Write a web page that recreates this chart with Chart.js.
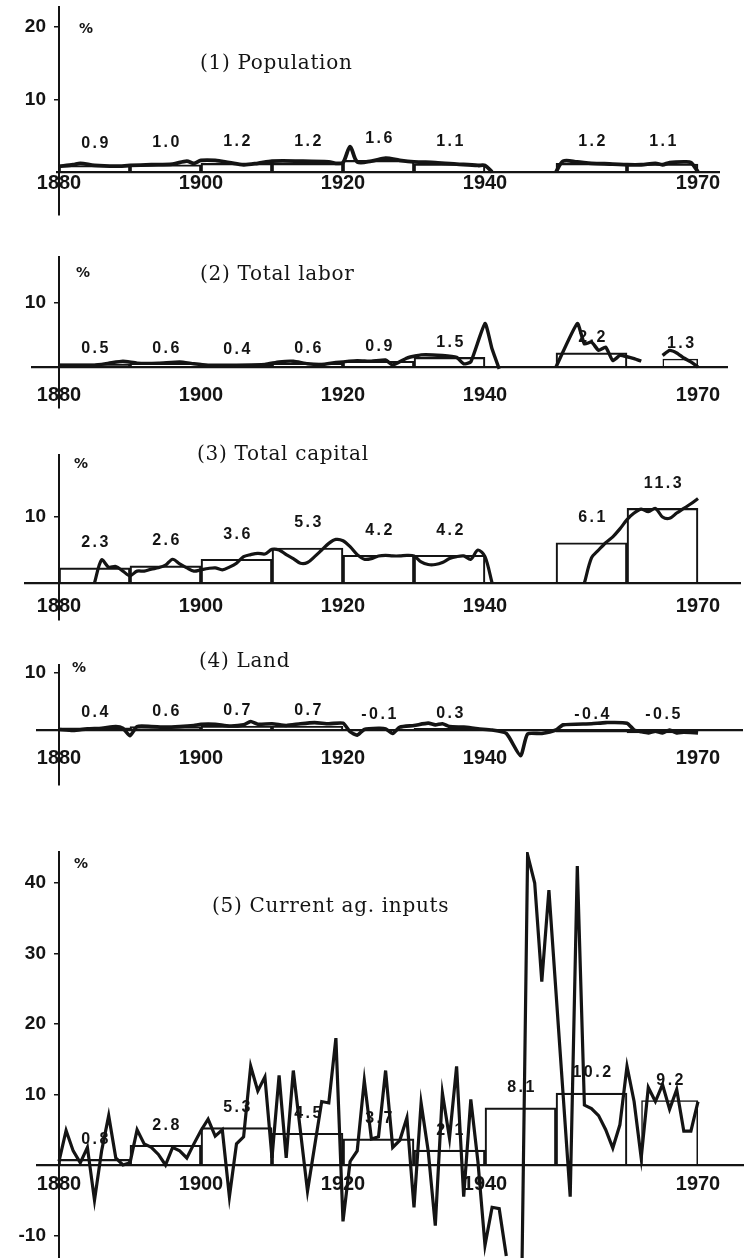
<!DOCTYPE html>
<html>
<head>
<meta charset="utf-8">
<script src="https://cdn.jsdelivr.net/npm/chart.js@4/dist/chart.umd.min.js"></script>
<style>
  body { margin: 0; background: #fff; }
  #wrap { position: relative; width: 745px; height: 1258px; overflow: hidden; background: #fff; }
  canvas { position: absolute; left: 0; top: -40px; }
  .ttl { position: absolute; font-family: 'DejaVu Serif', serif; font-size: 20px; letter-spacing: 0.7px; color: #141414; white-space: nowrap; line-height: 1; }
  .pct { position: absolute; font-family: 'DejaVu Sans', sans-serif; font-weight: bold; font-size: 14px; color: #141414; line-height: 1; }
</style>
</head>
<body>
<div id="wrap">
  <canvas id="c1" width="745" height="1338"></canvas>
  <canvas id="c2" width="745" height="1338"></canvas>
  <canvas id="c3" width="745" height="1338"></canvas>
  <canvas id="c4" width="745" height="1338"></canvas>
  <canvas id="c5" width="745" height="1338"></canvas>

  <div class="ttl" style="left:200px;top:52px">(1) Population</div>
  <div class="ttl" style="left:200px;top:263px">(2) Total labor</div>
  <div class="ttl" style="left:197px;top:443px">(3) Total capital</div>
  <div class="ttl" style="left:199px;top:650px">(4) Land</div>
  <div class="ttl" style="left:212px;top:895px">(5) Current ag. inputs</div>

  <div class="pct" style="left:79px;top:21px">%</div>
  <div class="pct" style="left:76px;top:265px">%</div>
  <div class="pct" style="left:74px;top:456px">%</div>
  <div class="pct" style="left:72px;top:660px">%</div>
  <div class="pct" style="left:74px;top:856px">%</div>
</div>

<script>
// Años marcados en el eje x
const yearTicks = [1880, 1900, 1920, 1940, 1970];

// (1) Población: medias por periodo y tasa anual (%)
const popBarStart = [1880, 1890, 1900, 1910, 1920, 1930, 1950, 1960];
const popBarEnd   = [1890, 1900, 1910, 1920, 1930, 1940, 1960, 1970];
const popBarValue = [0.9, 1.0, 1.2, 1.2, 1.6, 1.1, 1.2, 1.1];
const popYears = [1880, 1882, 1883, 1885, 1888, 1890, 1893, 1896, 1898, 1899, 1900, 1902, 1904, 1906, 1908, 1910, 1914, 1918, 1919, 1920, 1921, 1922, 1924, 1926, 1928, 1930, 1933, 1936, 1939, 1940, 1941, 1945, 1950, 1951, 1953, 1955, 1958, 1960, 1962, 1964, 1965, 1966, 1968, 1969, 1970];
const popRates = [0.8, 1.0, 1.2, 0.9, 0.8, 0.9, 1.0, 1.1, 1.5, 1.2, 1.6, 1.6, 1.3, 1.0, 1.2, 1.5, 1.5, 1.4, 1.2, 1.3, 3.5, 1.4, 1.5, 1.9, 1.6, 1.4, 1.3, 1.1, 0.9, 0.9, 0, null, 0, 1.5, 1.4, 1.2, 1.1, 1.0, 1.0, 1.2, 1.0, 1.3, 1.4, 1.3, 0];

// (2) Trabajo total
const labBarStart = [1880, 1890, 1900, 1910, 1920, 1930, 1950, 1965];
const labBarEnd   = [1890, 1900, 1910, 1920, 1930, 1940, 1960, 1970];
const labBarValue = [0.5, 0.6, 0.4, 0.6, 0.9, 1.5, 2.2, 1.3];
const labYears = [1880, 1885, 1887, 1889, 1891, 1894, 1897, 1899, 1901, 1905, 1909, 1911, 1913, 1915, 1917, 1919, 1922, 1924, 1926, 1927, 1929, 1931, 1934, 1936, 1937, 1938, 1940, 1941, 1942, 1946, 1950, 1953, 1954, 1955, 1956, 1957, 1958, 1959, 1960, 1961, 1962, 1963, 1965, 1966, 1967, 1968, 1969, 1970];
const labRates = [0.3, 0.3, 0.6, 0.9, 0.6, 0.6, 0.8, 0.5, 0.3, 0.3, 0.4, 0.8, 0.9, 0.5, 0.4, 0.7, 1.0, 0.9, 1.1, 0.3, 1.4, 1.9, 1.8, 1.5, 0.5, 0.8, 6.8, 2.8, -0.3, null, 0, 6.8, 3.6, 3.9, 2.6, 3.1, 1.0, 1.8, 1.6, 1.3, 0.9, null, 1.8, 2.6, 2.2, 1.4, 0.8, 0];

// (3) Capital total
const capBarStart = [1880, 1890, 1900, 1910, 1920, 1930, 1950, 1960];
const capBarEnd   = [1890, 1900, 1910, 1920, 1930, 1940, 1960, 1970];
const capBarValue = [2.3, 2.6, 3.6, 5.3, 4.2, 4.2, 6.1, 11.3];
const capYears = [1885, 1886, 1887, 1888, 1889, 1890, 1891, 1892, 1893, 1894, 1895, 1896, 1897, 1898, 1899, 1900, 1901, 1902, 1903, 1904, 1905, 1906, 1907, 1908, 1909, 1910, 1911, 1912, 1913, 1914, 1915, 1916, 1917, 1918, 1919, 1920, 1921, 1922, 1923, 1924, 1925, 1926, 1927, 1928, 1929, 1930, 1931, 1932, 1933, 1934, 1935, 1936, 1937, 1938, 1939, 1940, 1941, 1948, 1954, 1955, 1956, 1957, 1958, 1959, 1960, 1961, 1962, 1963, 1964, 1965, 1966, 1967, 1968, 1969, 1970];
const capRates = [0, 3.5, 2.4, 2.5, 1.8, 1.1, 1.8, 1.8, 2.1, 2.3, 2.7, 3.6, 2.9, 2.3, 1.8, 2.0, 2.2, 2.3, 2.0, 2.4, 3.0, 4.0, 4.3, 4.5, 4.4, 5.1, 5.0, 4.3, 3.7, 3.0, 3.1, 4.0, 5.0, 6.0, 6.6, 6.4, 5.5, 4.3, 3.6, 3.7, 4.1, 4.2, 4.1, 4.1, 4.2, 4.1, 3.2, 2.8, 2.8, 3.1, 3.7, 4.0, 4.1, 3.6, 5.0, 4.0, 0, null, 0, 3.8, 5.0, 6.1, 7.0, 8.2, 9.6, 10.6, 11.2, 10.8, 11.3, 10.0, 9.8, 10.6, 11.3, 12.0, 12.8];

// (4) Tierra
const landBarStart = [1880, 1890, 1900, 1910, 1920, 1930, 1950, 1960];
const landBarEnd   = [1890, 1900, 1910, 1920, 1930, 1940, 1960, 1970];
const landBarValue = [0.4, 0.6, 0.7, 0.7, -0.1, 0.3, -0.4, -0.5];
const landYears = [1880, 1882, 1884, 1886, 1888, 1889, 1890, 1891, 1893, 1895, 1897, 1899, 1900, 1902, 1904, 1906, 1907, 1908, 1910, 1912, 1914, 1916, 1918, 1920, 1921, 1922, 1923, 1925, 1926, 1927, 1928, 1930, 1932, 1933, 1934, 1935, 1937, 1939, 1941, 1943, 1945, 1946, 1948, 1950, 1951, 1955, 1957, 1960, 1961, 1962, 1963, 1964, 1965, 1966, 1967, 1968, 1970];
const landRates = [0.1, -0.1, 0.2, 0.3, 0.6, 0.3, -1.0, 0.6, 0.6, 0.5, 0.6, 0.8, 1.0, 1.0, 0.7, 0.9, 1.5, 1.0, 1.1, 0.8, 1.1, 1.3, 1.1, 1.2, -0.3, -0.9, 0.1, 0.3, 0.2, -0.6, 0.5, 0.8, 1.2, 0.9, 1.1, 0.6, 0.5, 0.2, 0.0, -0.6, -4.5, -0.7, -0.6, 0.0, 0.9, 1.1, 1.3, 1.2, 0.0, -0.3, -0.5, -0.2, -0.5, 0.0, -0.5, -0.4, -0.5];

// (5) Insumos agrícolas corrientes
const curBarStart = [1880, 1890, 1900, 1910, 1920, 1930, 1940, 1950, 1962];
const curBarEnd   = [1890, 1900, 1910, 1920, 1930, 1940, 1950, 1960, 1970];
const curBarValue = [0.8, 2.8, 5.3, 4.5, 3.7, 2.1, 8.1, 10.2, 9.2];
const curYears = [1880, 1881, 1882, 1883, 1884, 1885, 1886, 1887, 1888, 1889, 1890, 1891, 1892, 1893, 1894, 1895, 1896, 1897, 1898, 1899, 1900, 1901, 1902, 1903, 1904, 1905, 1906, 1907, 1908, 1909, 1910, 1911, 1912, 1913, 1915, 1917, 1918, 1919, 1920, 1921, 1922, 1923, 1924, 1925, 1926, 1927, 1928, 1929, 1930, 1931, 1932, 1933, 1934, 1935, 1936, 1937, 1938, 1939, 1940, 1941, 1942, 1943, 1944, 1945, 1946, 1947, 1948, 1949, 1952, 1953, 1954, 1955, 1956, 1957, 1958, 1959, 1960, 1961, 1962, 1963, 1964, 1965, 1966, 1967, 1968, 1969, 1970];
const curRates = [0.5, 4.9, 2.0, 0.3, 2.5, -5.0, 2.0, 7.0, 1.0, 0.0, 0.3, 5.0, 3.0, 2.5, 1.5, 0.0, 2.5, 2.0, 1.0, 3.0, 4.9, 6.5, 4.1, 5.0, -4.5, 3.0, 4.0, 14.0, 10.5, 12.5, 1.0, 12.7, 1.0, 13.4, -3.7, 9.0, 8.8, 18.0, -8.0, 0.5, 2.0, 12.0, 3.7, 4.0, 13.4, 2.5, 3.5, 6.7, -6.0, 8.8, 2.0, -8.6, 10.2, 3.8, 14.0, -4.5, 9.3, 0.5, -11.4, -6.0, -6.2, -12.9, null, -30, 44, 40, 26, 39, -4.5, 42.4, 8.5, 8.0, 7.0, 5.0, 2.4, 5.7, 14.0, 9.0, 1.0, 11.0, 9.0, 11.4, 7.9, 10.7, 4.8, 4.8, 9.0];

// Geometría de la página (los lienzos sobresalen MARGIN px por arriba y por abajo)
const PAGE_W = 745, PAGE_H = 1258, MARGIN = 40;
const X_1880 = 59, PX_PER_YEAR = 7.1, LABEL_GAP = 13;
const ink = '#141414';
const sans = "'Liberation Sans', Arial, sans-serif";

// Etiquetas de las medias sobre cada rectángulo
const barLabels = {
    id: 'barLabels',
    afterDatasetsDraw(chart, args, opts) {
        const ctx = chart.ctx;
        ctx.save();
        ctx.font = 'bold 16px ' + sans;
        ctx.letterSpacing = '2.5px';
        ctx.textAlign = 'center';
        ctx.textBaseline = 'middle';
        ctx.fillStyle = ink;
        chart.data.datasets.forEach((ds, di) => {
            if (ds.type !== 'bar') return;
            chart.getDatasetMeta(di).data.forEach((bar, i) => {
                const top = Math.min(bar.y, bar.base);
                ctx.fillText(ds.data[i].y.toFixed(1), bar.x + 1.5, top - opts.offset);
            });
        });
        ctx.restore();
    }
};

// Un dataset por anchura de periodo (10 años = barra completa)
function barDatasets(starts, ends, values) {
    const groups = {};
    starts.forEach((s, i) => {
        const w = ends[i] - s;
        (groups[w] = groups[w] || []).push({ x: (s + ends[i]) / 2, y: values[i] });
    });
    return Object.keys(groups).map(w => ({
        type: 'bar',
        data: groups[w],
        grouped: false,
        barPercentage: w / 10,
        categoryPercentage: 1,
        backgroundColor: 'rgba(0,0,0,0)',
        borderColor: ink,
        borderWidth: 1.5,
        order: 2
    }));
}

function drawPanel(id, box, yTicks, bars, years, rates, style) {
    const yMax = (box.zero - box.top) / box.unit;
    const yMin = -(box.bottom - box.zero) / box.unit;
    const xMin = 1880 + (box.left - X_1880) / PX_PER_YEAR;
    const xMax = 1880 + (box.right - X_1880) / PX_PER_YEAR;
    const setYTicks = s => { s.ticks = yTicks.map(v => ({ value: v })); };

    return new Chart(document.getElementById(id), {
        type: 'line',
        data: {
            datasets: [
                {
                    type: 'line',
                    data: years.map((x, i) => ({ x: x, y: rates[i] })),
                    borderColor: ink,
                    borderWidth: style.lineWidth,
                    tension: style.tension,
                    pointRadius: 0,
                    fill: false,
                    spanGaps: false,
                    order: 1
                },
                ...bars
            ]
        },
        options: {
            responsive: false,
            animation: false,
            events: [],
            layout: {
                padding: {
                    left: box.left,
                    right: PAGE_W - box.right,
                    top: box.top + MARGIN,
                    bottom: PAGE_H - box.bottom + MARGIN
                }
            },
            plugins: {
                legend: { display: false },
                tooltip: { enabled: false },
                barLabels: { offset: style.labelOffset }
            },
            scales: {
                x: {
                    type: 'linear',
                    min: xMin,
                    max: xMax,
                    offset: false,
                    position: { y: 0 },
                    afterBuildTicks: s => { s.ticks = yearTicks.map(v => ({ value: v })); },
                    grid: { display: true, drawOnChartArea: false, drawTicks: false, offset: false },
                    border: { display: true, color: ink, width: 2.2 },
                    ticks: {
                        color: ink,
                        autoSkip: false,
                        maxRotation: 0,
                        padding: style.xPad,
                        font: { family: sans, size: 20, weight: 'bold', lineHeight: 1 },
                        callback: v => String(v)
                    }
                },
                y: {
                    type: 'linear',
                    min: yMin,
                    max: yMax,
                    position: { x: 1880 },
                    afterBuildTicks: setYTicks,
                    grid: { drawOnChartArea: false, tickLength: 4, color: ink, lineWidth: 1.5 },
                    border: { display: true, color: ink, width: 2 },
                    ticks: { display: false }
                },
                // eje sólo para los rótulos, un poco a la izquierda del eje y
                yLabels: {
                    type: 'linear',
                    min: yMin,
                    max: yMax,
                    position: { x: 1880 - LABEL_GAP / PX_PER_YEAR },
                    afterBuildTicks: setYTicks,
                    grid: { display: false },
                    border: { display: false },
                    ticks: {
                        color: ink,
                        padding: 0,
                        font: { family: sans, size: 19, weight: 'bold', lineHeight: 1 },
                        callback: v => String(v)
                    }
                }
            }
        },
        plugins: [barLabels]
    });
}

drawPanel('c1', { left: 57, right: 719, top: 7, bottom: 215, zero: 172, unit: 7.25 }, [10, 20],
    barDatasets(popBarStart, popBarEnd, popBarValue), popYears, popRates,
    { lineWidth: 3.8, tension: 0.3, labelOffset: 22, xPad: 1 });

drawPanel('c2', { left: 32, right: 727, top: 257, bottom: 408, zero: 367, unit: 6.4 }, [10],
    barDatasets(labBarStart, labBarEnd, labBarValue), labYears, labRates,
    { lineWidth: 3.4, tension: 0.15, labelOffset: 15, xPad: 18 });

drawPanel('c3', { left: 25, right: 740, top: 455, bottom: 620, zero: 583, unit: 6.6 }, [10],
    barDatasets(capBarStart, capBarEnd, capBarValue), capYears, capRates,
    { lineWidth: 3.2, tension: 0.3, labelOffset: 25, xPad: 13 });

drawPanel('c4', { left: 37, right: 742, top: 665, bottom: 785, zero: 730, unit: 5.7 }, [10],
    barDatasets(landBarStart, landBarEnd, landBarValue), landYears, landRates,
    { lineWidth: 3.6, tension: 0.2, labelOffset: 15, xPad: 18 });

drawPanel('c5', { left: 37, right: 743, top: 852, bottom: 1258, zero: 1165, unit: 7.05 }, [-10, 10, 20, 30, 40],
    barDatasets(curBarStart, curBarEnd, curBarValue), curYears, curRates,
    { lineWidth: 3.2, tension: 0, labelOffset: 20, xPad: 9 });
</script>
</body>
</html>
